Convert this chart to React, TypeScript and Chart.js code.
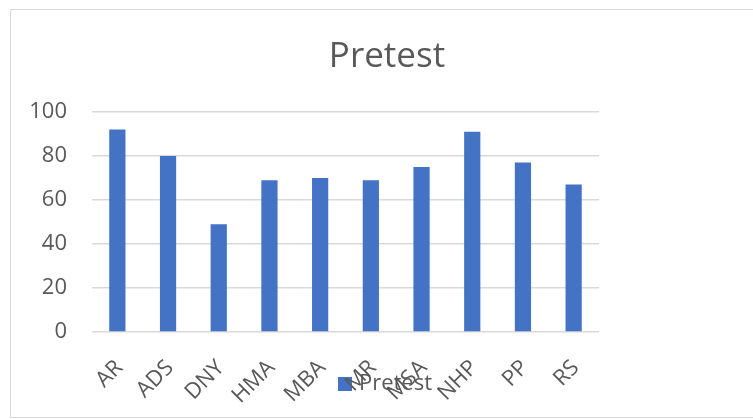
import React, { useEffect, useRef } from "react";
import { Chart, registerables } from "chart.js";

Chart.register(...registerables);

const categories = ["AR", "ADS", "DNY", "HMA", "MBA", "MR", "MSA", "NHP", "PP", "RS"];
const pretestValues = [92, 80, 49, 69, 70, 69, 75, 91, 77, 67];
const yTickValues = [0, 20, 40, 60, 80, 100];
const seriesName = "Pretest";
const chartTitle = "Pretest";

const FONT = "'Open Sans', 'Noto Sans', sans-serif";
const TEXT_COLOR = "#595959";
const BAR_COLOR = "#4472c4";

export default function App() {
  const ref = useRef<HTMLCanvasElement>(null);

  useEffect(() => {
    if (!ref.current) return;

    // small square swatch used as the legend marker
    const swatch = document.createElement("canvas");
    swatch.width = 14;
    swatch.height = 14;
    const sctx = swatch.getContext("2d");
    if (sctx) {
      sctx.fillStyle = BAR_COLOR;
      sctx.fillRect(0, 0, 14, 14);
    }

    const chart = new Chart(ref.current, {
      type: "bar",
      data: {
        labels: categories,
        datasets: [
          {
            label: seriesName,
            data: pretestValues,
            backgroundColor: BAR_COLOR,
            borderWidth: 0,
            barPercentage: 0.32,
            categoryPercentage: 1,
            yAxisID: "y",
            pointStyle: swatch as any,
          },
        ],
      },
      options: {
        animation: false,
        responsive: false,
        layout: { padding: { left: 0, right: 0, top: 0, bottom: 12 } },
        plugins: {
          title: {
            display: true,
            text: chartTitle,
            color: TEXT_COLOR,
            font: { family: FONT, size: 35, weight: "normal" },
            padding: { top: 26, bottom: 34 },
          },
          legend: {
            position: "bottom",
            labels: {
              usePointStyle: true,
              pointStyleWidth: 6,
              boxHeight: 14,
              color: TEXT_COLOR,
              font: { family: FONT, size: 22 },
              padding: 10,
            },
          },
          tooltip: { enabled: false },
        },
        scales: {
          x: {
            grid: { display: false },
            border: { display: false },
            ticks: {
              color: TEXT_COLOR,
              font: { family: FONT, size: 22 },
              minRotation: 45,
              maxRotation: 45,
              padding: 15,
              labelOffset: 2,
            },
            afterFit: (s: any) => {
              s.height = 31;
              // let rotated labels run below the axis box (into the legend band)
              s._computeLabelArea = () => undefined;
            },
          },
          y: {
            min: 0,
            max: 100,
            afterBuildTicks: (s: any) => {
              s.ticks = yTickValues.map((v) => ({ value: v }));
            },
            grid: { color: "#d9d9d9", lineWidth: 1.5, drawTicks: false },
            border: { display: false },
            ticks: {
              padding: 25,
              color: TEXT_COLOR,
              font: { family: FONT, size: 22 },
            },
            afterFit: (s: any) => {
              s.width = 81;
            },
          },
          y2: {
            position: "right",
            display: true,
            grid: { display: false },
            border: { display: false },
            ticks: { display: false },
            afterFit: (s: any) => {
              s.width = 164;
            },
          },
        },
      },
    });
    return () => chart.destroy();
  }, []);

  return (
    <div
      style={{
        position: "absolute",
        left: 10,
        top: 9,
        width: 742,
        height: 407,
        border: "1px solid #d9d9d9",
        overflow: "hidden",
        background: "#fff",
      }}
    >
      <canvas ref={ref} width={752} height={407} style={{ display: "block" }} />
    </div>
  );
}
